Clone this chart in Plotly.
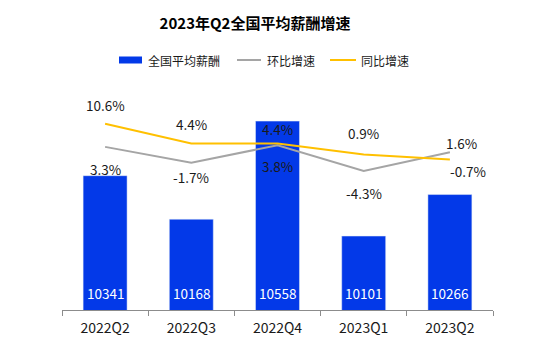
import plotly.graph_objects as go

categories = ["2022Q2", "2022Q3", "2022Q4", "2023Q1", "2023Q2"]
salary = [10341, 10168, 10558, 10101, 10266]
qoq = [3.3, -1.7, 3.8, -4.3, 1.6]      # 环比增速 (%)
yoy = [10.6, 4.4, 4.4, 0.9, -0.7]      # 同比增速 (%)
series_names = ["全国平均薪酬", "环比增速", "同比增速"]

BLUE = "#0339E8"
GRAY = "#A5A5A5"
GOLD = "#FFC000"
FONT = "Noto Sans CJK SC"

W, H = 554, 351
L, R, T, B = 62, 61, 59, 41
Y1_RANGE = [9807, 10805]
Y2_RANGE = [-48.3, 31.1]


def px_x(p):
    return (p - L) / (W - L - R)


def px_y(p):
    return (H - B - p) / (H - T - B)


fig = go.Figure()
fig.add_trace(go.Bar(x=categories, y=salary, name=series_names[0], marker_color=BLUE,
                     width=0.51, yaxis="y", showlegend=False))
fig.add_trace(go.Scatter(x=categories, y=qoq, name=series_names[1], mode="lines",
                         line=dict(color=GRAY, width=2), yaxis="y2", showlegend=False))
fig.add_trace(go.Scatter(x=categories, y=yoy, name=series_names[2], mode="lines",
                         line=dict(color=GOLD, width=2), yaxis="y2", showlegend=False))

annotations = []
for c, v in zip(categories, salary):
    annotations.append(dict(x=c, y=Y1_RANGE[0], xref="x", yref="y", text=str(v),
                            showarrow=False, yanchor="middle", yshift=17,
                            font=dict(color="white", size=13.5, family=FONT)))
qoq_shift = [(0, -22), (0, -14), (0, -21), (0, -22), (12, 9)]
yoy_shift = [(0, 19), (0, 19), (0, 14), (0, 21), (18, -11)]
for c, v, (dx, dy) in zip(categories, qoq, qoq_shift):
    annotations.append(dict(x=c, y=v, xref="x", yref="y2", text=f"{v:.1f}%",
                            showarrow=False, yanchor="middle", xshift=dx, yshift=dy,
                            font=dict(color="#1a1a1a", size=13.5, family=FONT)))
for c, v, (dx, dy) in zip(categories, yoy, yoy_shift):
    annotations.append(dict(x=c, y=v, xref="x", yref="y2", text=f"{v:.1f}%",
                            showarrow=False, yanchor="middle", xshift=dx, yshift=dy,
                            font=dict(color="#1a1a1a", size=13.5, family=FONT)))

# custom legend (symbol pixel spans + text start)
legend_items = [
    (series_names[0], BLUE, "rect", 119, 142, 146),
    (series_names[1], GRAY, "line", 237, 261, 265),
    (series_names[2], GOLD, "line", 330, 356, 359),
]
LEG_Y = 60
shapes = []
for name, color, kind, x0, x1, tx in legend_items:
    if kind == "rect":
        shapes.append(dict(type="rect", xref="paper", yref="paper",
                           x0=px_x(x0), x1=px_x(x1), y0=px_y(LEG_Y + 3.5), y1=px_y(LEG_Y - 3.5),
                           fillcolor=color, line=dict(width=0)))
    else:
        shapes.append(dict(type="line", xref="paper", yref="paper",
                           x0=px_x(x0), x1=px_x(x1), y0=px_y(LEG_Y), y1=px_y(LEG_Y),
                           line=dict(color=color, width=2)))
    annotations.append(dict(x=px_x(tx), y=px_y(LEG_Y), xref="paper", yref="paper",
                            text=name, showarrow=False, xanchor="left", yanchor="middle",
                            font=dict(size=12, family=FONT, color="#1a1a1a")))

fig.update_layout(
    width=W, height=H,
    margin=dict(l=L, r=R, t=T, b=B),
    paper_bgcolor="white", plot_bgcolor="white",
    font=dict(family=FONT, color="#1a1a1a"),
    title=dict(text="<b>2023年Q2全国平均薪酬增速</b>", x=255 / W, xanchor="center",
               y=1 - 24 / H, yanchor="middle",
               font=dict(size=15, family=FONT, color="black")),
    showlegend=False,
    xaxis=dict(showline=True, linecolor="#8c8c8c", linewidth=1, ticks="outside",
               tickson="boundaries", ticklen=5, tickcolor="#8c8c8c",
               ticklabelstandoff=5,
               tickfont=dict(size=14, family=FONT, color="#1a1a1a"), showgrid=False),
    yaxis=dict(range=Y1_RANGE, visible=False, showgrid=False, fixedrange=True),
    yaxis2=dict(range=Y2_RANGE, overlaying="y", side="right", visible=False,
                showgrid=False),
    annotations=annotations,
    shapes=shapes,
    bargap=0.49,
)

fig.write_html("out.html")
